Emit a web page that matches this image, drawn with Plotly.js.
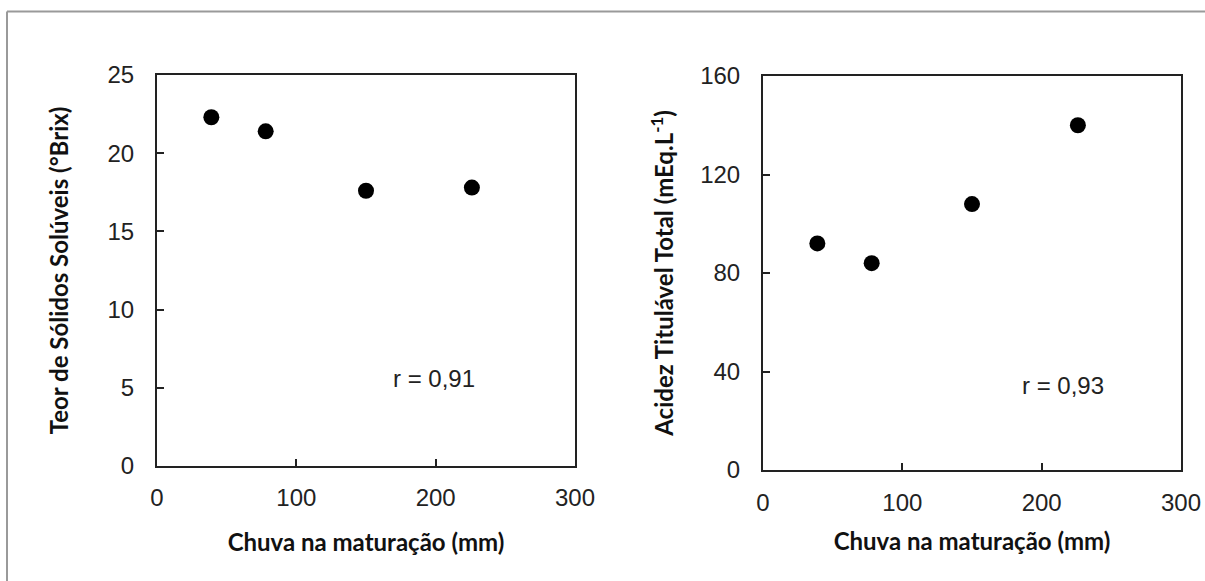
<!DOCTYPE html>
<html>
<head>
<meta charset="utf-8">
<script src="https://cdn.plot.ly/plotly-3.0.1.min.js"></script>
<style>
  html, body { margin: 0; padding: 0; background: #fff; }
  #chart { width: 1205px; height: 581px; }
</style>
</head>
<body>
<div id="chart"></div>
<script>
// Data
const rainfall = [39, 78, 150, 226];            // Chuva na maturação (mm)
const solubleSolids = [22.3, 21.4, 17.6, 17.8]; // °Brix
const titratableAcidity = [92, 84, 108, 140];   // mEq.L-1
const xTicks = [0, 100, 200, 300];
const yTicksLeft = [0, 5, 10, 15, 20, 25];
const yTicksRight = [0, 40, 80, 120, 160];
const rLeft = "r = 0,91";
const rRight = "r = 0,93";

const tickFont = {family: "Liberation Sans, Arial, sans-serif", size: 24, color: "#222"};
const xTitleFont = {family: "Lato, sans-serif", size: 24, color: "#111", weight: 700};
const yTitleFont = {family: "Lato, sans-serif", size: 24, color: "#111", weight: 700};

const axisCommon = {
  showline: true, mirror: true, linecolor: "#222", linewidth: 2,
  ticks: "inside", ticklen: 7, tickwidth: 2, tickcolor: "#222",
  showgrid: false, zeroline: false, tickfont: tickFont, fixedrange: true
};

const traces = [
  {x: rainfall, y: solubleSolids, xaxis: "x", yaxis: "y", type: "scatter", mode: "markers",
   marker: {color: "#000", size: 16}, hoverinfo: "skip"},
  {x: rainfall, y: titratableAcidity, xaxis: "x2", yaxis: "y2", type: "scatter", mode: "markers",
   marker: {color: "#000", size: 16}, hoverinfo: "skip"}
];

const layout = {
  width: 1205, height: 581,
  margin: {l: 0, r: 0, t: 0, b: 0},
  paper_bgcolor: "#fff", plot_bgcolor: "#fff",
  showlegend: false,
  xaxis: Object.assign({}, axisCommon, {
    domain: [157/1205, 575/1205], range: [0, 300], tickvals: xTicks, ticklabelstandoff: 9,
    anchor: "y",
    title: {text: "Chuva na maturação (mm)", font: xTitleFont, standoff: 24}
  }),
  yaxis: Object.assign({}, axisCommon, {
    domain: [1 - 466/581, 1 - 75/581], range: [0, 25], tickvals: yTicksLeft, ticklabelstandoff: 16,
    anchor: "x",
    title: {text: "Teor de Sólidos Solúveis (°Brix)", font: yTitleFont, standoff: 32}
  }),
  xaxis2: Object.assign({}, axisCommon, {
    domain: [763/1205, 1181/1205], range: [0, 300], tickvals: xTicks, ticklabelstandoff: 10,
    anchor: "y2",
    title: {text: "Chuva na maturação (mm)", font: xTitleFont, standoff: 18}
  }),
  yaxis2: Object.assign({}, axisCommon, {
    domain: [1 - 470/581, 1 - 76/581], range: [0, 160], tickvals: yTicksRight, ticklabelstandoff: 16,
    anchor: "x2",
    title: {text: "Acidez Titulável Total (mEq.L<sup>-1</sup>)", font: yTitleFont, standoff: 20}
  }),
  annotations: [
    {xref: "x", yref: "y", x: 199, y: 5.6, text: rLeft, showarrow: false, font: tickFont},
    {xref: "x2", yref: "y2", x: 215, y: 34.5, text: rRight, showarrow: false, font: tickFont}
  ],
  shapes: [
    {type: "line", xref: "paper", yref: "paper", x0: 7/1205, x1: 1, y0: 1 - 11.5/581, y1: 1 - 11.5/581,
     line: {color: "#9a9a9a", width: 2}},
    {type: "line", xref: "paper", yref: "paper", x0: 7/1205, x1: 7/1205, y0: 0, y1: 1 - 11.5/581,
     line: {color: "#9a9a9a", width: 2}}
  ]
};

Plotly.newPlot("chart", traces, layout, {staticPlot: true, displayModeBar: false});
</script>
</body>
</html>
